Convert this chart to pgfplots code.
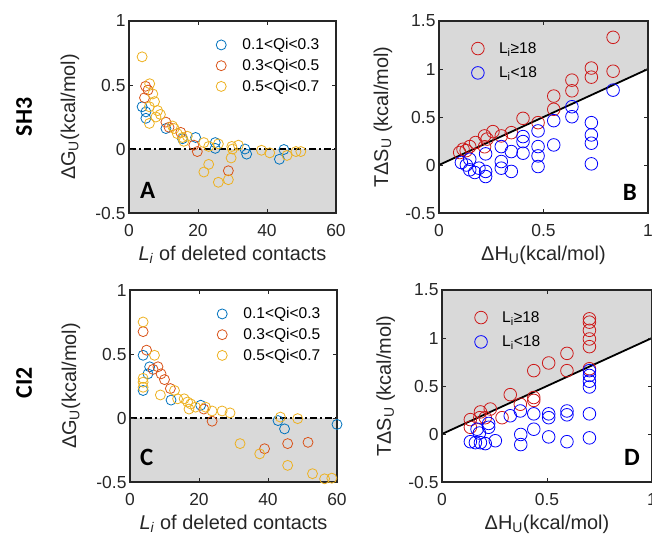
\documentclass[border=0pt]{standalone}
\usepackage{fontspec}
\setmainfont{Liberation Sans}
\newfontfamily\calibri{Carlito}
\usepackage{pgfplots}
\pgfplotsset{compat=1.18}

\definecolor{mblue}{RGB}{0,114,189}
\definecolor{mred}{RGB}{217,83,25}
\definecolor{myel}{RGB}{237,177,32}
\definecolor{rred}{RGB}{205,25,25}
\definecolor{bblue}{RGB}{0,0,255}
\definecolor{shade}{RGB}{217,217,217}
\definecolor{axc}{RGB}{38,38,38}

\pgfplotsset{
  panel/.style={
    scale only axis, height=192bp,
    axis line style={line width=1.6bp, axc},
    every tick/.style={line width=0.8bp, axc},
    tick align=inside, major tick length=4bp,
    tick label style={font=\fontsize{17.5}{18}\selectfont, text=axc},
    xticklabel style={yshift=-8bp},
    label style={font=\fontsize{20}{21}\selectfont, text=axc},
    /pgf/number format/assume math mode=true,
    clip=false, axis on top,
    legend cell align=left,
    legend image code/.code={\path (-5bp,0bp) (19bp,0bp); \draw[##1] plot coordinates {(0bp,0bp)};},
    xlabel style={at={(axis description cs:0.5,-0.245)}, anchor=base},
  },
  qplot/.style={
    panel, width=207bp, xmin=0, xmax=60, ymin=-0.5, ymax=1,
    xtick={0,20,40,60}, ytick={-0.5,0,0.5,1},
    ylabel style={at={(axis description cs:-0.285,0.5)}, anchor=center},
    legend style={draw=none, fill=none, at={(0.93,0.92)}, anchor=north east,
      font=\fontsize{15.6}{16}\selectfont, inner sep=0pt, row sep=4bp},
  },
  hplot/.style={
    panel, width=209bp, xmin=0, xmax=1, ymin=-0.5, ymax=1.5,
    xtick={0,0.5,1}, ytick={-0.5,0,0.5,1,1.5},
    ylabel style={at={(axis description cs:-0.268,0.5)}, anchor=center},
    legend style={draw=none, fill=none, at={(0.155,0.90)}, anchor=north west,
      font=\fontsize{15.6}{16}\selectfont, inner sep=0pt, row sep=8bp},
  },
  qm/.style={only marks, mark=o, mark size=5bp, color=#1, mark options={line width=0.8bp}},
  hm/.style={only marks, mark=o, mark size=6.3bp, color=#1, mark options={line width=0.8bp}},
}

\begin{document}
\begin{tikzpicture}
\useasboundingbox (0,0) rectangle (652bp,-536bp);

\node[rotate=90, font=\calibri\bfseries\fontsize{24}{24}\selectfont] at (24bp,-117bp) {SH3};
\node[rotate=90, font=\calibri\bfseries\fontsize{24}{24}\selectfont] at (24bp,-383bp) {CI2};

% ---------- A ----------
\begin{axis}[qplot, at={(129bp,-213bp)}, anchor=south west,
  xlabel={\textit{L}\textsubscript{\textit{i}} of deleted contacts},
  ylabel={ΔG\textsubscript{U}(kcal/mol)}]
\addplot[fill=shade, draw=none, forget plot] coordinates {(0,-0.5) (60,-0.5) (60,0) (0,0)} -- cycle;
\addplot[black, line width=1.8bp, dash pattern=on 7bp off 3bp on 2bp off 3bp, forget plot] coordinates {(0,0) (60,0)};
\addplot[qm=mblue] coordinates {
(3.8,0.33)(4.9,0.29)(4.9,0.24)(10.7,0.16)(15.5,0.08)(19.3,0.09)(25,0.05)(25,0.005)
(33.6,0.0)(34.1,-0.04)(44.9,-0.004)(43.6,-0.08)};
\addlegendentry{0.1<Qi<0.3}
\addplot[qm=mred] coordinates {
(4.8,0.49)(4.5,0.40)(5.5,0.46)(10.7,0.21)(11.6,0.17)(15,0.13)(18.8,0.03)(19.8,-0.02)(28.8,-0.17)};
\addlegendentry{0.3<Qi<0.5}
\addplot[qm=myel] coordinates {
(3.8,0.72)(6.0,0.51)(6.9,0.43)(7.4,0.37)(5.9,0.33)(8.3,0.30)(9.1,0.27)(7.8,0.25)(5.9,0.20)
(12.6,0.18)(13.1,0.16)(14,0.12)(15.5,0.09)(16.9,0.10)(15.9,0.06)(21.7,0.05)(23.1,0.02)
(25.9,0.04)(29.8,0.02)(31.7,0.03)(30,0.0)(29.6,-0.07)(23.1,-0.12)(21.7,-0.18)(25.9,-0.26)
(28.8,-0.24)(38.4,-0.01)(40.8,-0.03)(45.8,-0.05)(48.4,-0.02)(49.8,-0.02)};
\addlegendentry{0.5<Qi<0.7}
\node[font=\calibri\bfseries\fontsize{25}{25}\selectfont, anchor=base west, inner sep=0pt] at (axis cs:3.2,-0.39) {A};
\end{axis}

% ---------- B ----------
\begin{axis}[hplot, at={(439bp,-213bp)}, anchor=south west,
  xlabel={ΔH\textsubscript{U}(kcal/mol)},
  ylabel={TΔS\textsubscript{U} (kcal/mol)}]
\addplot[fill=shade, draw=none, forget plot] coordinates {(0,0) (1,1) (1,1.5) (0,1.5)} -- cycle;
\addplot[black, line width=1.8bp, forget plot] coordinates {(0,0) (1,1)};
\addplot[hm=rred] coordinates {
(0.833,1.33)(0.833,0.977)(0.729,1.01)(0.729,0.915)(0.636,0.884)(0.636,0.773)(0.549,0.718)
(0.549,0.58)(0.402,0.486)(0.474,0.441)(0.346,0.337)(0.298,0.303)(0.258,0.348)(0.218,0.303)
(0.23,0.27)(0.175,0.234)(0.147,0.192)(0.115,0.164)(0.099,0.13)(0.218,0.19)(0.13,0.15)};
\addlegendentry{L\textsubscript{i}≥18}
\addplot[hm=bblue] coordinates {
(0.833,0.78)(0.636,0.607)(0.636,0.503)(0.549,0.462)(0.549,0.209)(0.729,0.441)(0.729,0.313)
(0.729,0.227)(0.729,0.012)(0.474,0.355)(0.474,0.192)(0.474,0.095)(0.474,-0.016)(0.402,0.296)
(0.402,0.244)(0.402,0.123)(0.346,0.14)(0.346,-0.067)(0.298,0.192)(0.298,0.036)(0.298,-0.033)
(0.223,0.116)(0.223,-0.067)(0.223,-0.12)(0.191,-0.033)(0.147,0.06)(0.147,-0.05)(0.171,-0.078)
(0.107,0.026)(0.131,0.0)};
\addlegendentry{L\textsubscript{i}<18}
\node[font=\calibri\bfseries\fontsize{25}{25}\selectfont, anchor=base east, inner sep=0pt] at (axis cs:0.947,-0.365) {B};
\end{axis}

% ---------- C ----------
\begin{axis}[qplot, at={(130bp,-482bp)}, anchor=south west,
  xlabel={\textit{L}\textsubscript{\textit{i}} of deleted contacts},
  ylabel={ΔG\textsubscript{U}(kcal/mol)}]
\addplot[fill=shade, draw=none, forget plot] coordinates {(0,-0.5) (60,-0.5) (60,0) (0,0)} -- cycle;
\addplot[black, line width=1.8bp, dash pattern=on 7bp off 3bp on 2bp off 3bp, forget plot] coordinates {(0,0) (60,0)};
\addplot[qm=mblue] coordinates {
(3.8,0.49)(5.2,0.345)(5.7,0.40)(3.8,0.215)(11.9,0.14)(20.5,0.1)(42.9,-0.02)(44.8,-0.085)(60,-0.05)};
\addlegendentry{0.1<Qi<0.3}
\addplot[qm=mred] coordinates {
(3.8,0.675)(4.8,0.53)(6.7,0.38)(8.1,0.40)(9,0.345)(10,0.30)(11.7,0.23)(21.4,0.07)(23.8,-0.025)
(39,-0.24)(45.7,-0.2)(51.6,-0.19)};
\addlegendentry{0.3<Qi<0.5}
\addplot[qm=myel] coordinates {
(3.8,0.75)(3.8,0.31)(3.8,0.28)(3.8,0.24)(7.1,0.49)(8.8,0.18)(12.9,0.215)(13.8,0.15)(15.7,0.15)
(16.7,0.125)(17.6,0.11)(17.1,0.07)(19,0.085)(21.9,0.085)(23.8,0.055)(26.7,0.055)(29,0.04)
(31.9,-0.2)(37.6,-0.28)(43.6,0.007)(48.6,-0.005)(45.7,-0.37)(52.9,-0.435)(56.4,-0.475)(58.5,-0.47)};
\addlegendentry{0.5<Qi<0.7}
\node[font=\calibri\bfseries\fontsize{25}{25}\selectfont, anchor=base west, inner sep=0pt] at (axis cs:2.9,-0.373) {C};
\end{axis}

% ---------- D ----------
\begin{axis}[hplot, width=210bp, at={(442bp,-482bp)}, anchor=south west,
  xlabel={ΔH\textsubscript{U}(kcal/mol)},
  ylabel={TΔS\textsubscript{U} (kcal/mol)}]
\addplot[fill=shade, draw=none, forget plot] coordinates {(0,0) (1,1) (1,1.5) (0,1.5)} -- cycle;
\addplot[black, line width=1.8bp, forget plot] coordinates {(0,0) (1,1)};
\addplot[hm=rred] coordinates {
(0.702,1.20)(0.702,1.165)(0.702,1.08)(0.702,0.99)(0.702,0.91)(0.702,0.68)(0.595,0.84)(0.595,0.66)
(0.508,0.74)(0.437,0.66)(0.437,0.38)(0.437,0.35)(0.325,0.41)(0.373,0.31)(0.286,0.17)(0.23,0.26)
(0.183,0.23)(0.206,0.17)(0.135,0.15)(0.135,0.07)(0.18,0.17)};
\addlegendentry{L\textsubscript{i}≥18}
\addplot[hm=bblue] coordinates {
(0.702,0.66)(0.702,0.61)(0.702,0.55)(0.702,0.49)(0.702,0.21)(0.702,-0.04)(0.595,0.24)(0.595,0.20)
(0.595,-0.08)(0.508,0.21)(0.508,0.17)(0.508,-0.03)(0.437,0.21)(0.437,0.05)(0.373,0.24)(0.325,0.19)
(0.375,-0.005)(0.375,-0.11)(0.254,-0.07)(0.222,0.11)(0.222,0.07)(0.178,0.01)(0.167,0.05)
(0.135,-0.08)(0.159,-0.09)(0.183,-0.09)(0.206,-0.1)};
\addlegendentry{L\textsubscript{i}<18}
\node[font=\calibri\bfseries\fontsize{25}{25}\selectfont, anchor=base east, inner sep=0pt] at (axis cs:0.943,-0.33) {D};
\end{axis}
\end{tikzpicture}
\end{document}
